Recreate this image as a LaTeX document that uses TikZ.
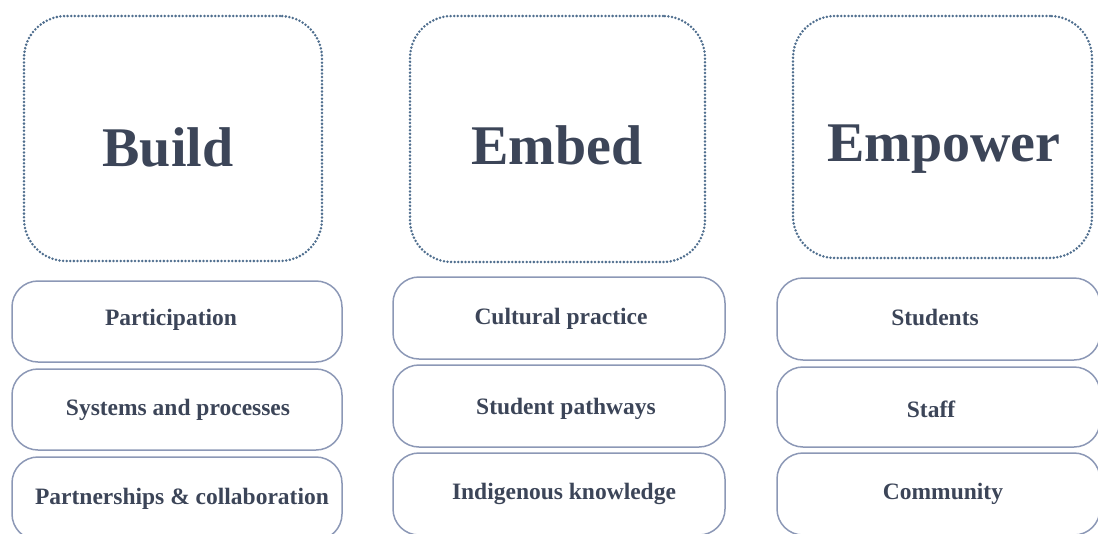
\documentclass[tikz,border=0pt]{standalone}
\usepackage{fontspec}
\setmainfont{Liberation Serif}
\definecolor{txt}{HTML}{3C4558}
\definecolor{dotc}{HTML}{4F6E8E}
\definecolor{boxc}{HTML}{8C98B6}
\begin{document}
\begin{tikzpicture}[x=1pt,y=-1pt,
  bigbox/.style={draw=dotc, line width=2.8pt, dash pattern=on 0pt off 3.6pt, line cap=round, rounded corners=42pt, minimum width=#1, inner sep=0pt},
  bigbox/.default=298pt,
  smallbox/.style={draw=boxc, line width=1.5pt, rounded corners=26pt, inner sep=0pt},
  title/.style={font=\fontsize{56}{60}\selectfont\bfseries, text=txt},
  item/.style={font=\fontsize{23.5}{28}\selectfont\bfseries, text=txt}]
\useasboundingbox (0,0) rectangle (1098,533);
\clip (0,0) rectangle (1098,533);
% big boxes
\node[bigbox=298pt, minimum height=245pt] (bB) at (173,138.5) {};
\node[bigbox=295pt, minimum height=246pt] (bE) at (557.5,139) {};
\node[bigbox=299pt, minimum height=242pt] (bP) at (942.5,137) {};
\node[title] (tB) at (168,147) {Build};
\node[title] (tE) at (557,145) {Embed};
\node[title] (tP) at (944,149) {Empower};
% Build column
\node[smallbox, minimum width=330pt, minimum height=81pt] (b1) at (177,321.5) {};
\node[smallbox, minimum width=330pt, minimum height=81pt] (b2) at (177,409.5) {};
\node[smallbox, minimum width=330pt, minimum height=83pt] (b3) at (177,498.5) {};
\node[item] (tb1) at (171,320) {Participation};
\node[item] (tb2) at (178,410) {Systems and processes};
\node[item] (tb3) at (182,499) {Partnerships \& collaboration};
% Embed column
\node[smallbox, minimum width=332pt, minimum height=82pt] (e1) at (559,318) {};
\node[smallbox, minimum width=332pt, minimum height=82pt] (e2) at (559,406) {};
\node[smallbox, minimum width=332pt, minimum height=82pt] (e3) at (559,494) {};
\node[item] (te1) at (561,319) {Cultural practice};
\node[item] (te2) at (566,409) {Student pathways};
\node[item] (te3) at (564,494) {Indigenous knowledge};
% Empower column
\node[smallbox, minimum width=323pt, minimum height=82pt] (p1) at (938.5,319) {};
\node[smallbox, minimum width=323pt, minimum height=80pt] (p2) at (938.5,407) {};
\node[smallbox, minimum width=323pt, minimum height=82pt] (p3) at (938.5,494) {};
\node[item] (tp1) at (935,317) {Students};
\node[item] (tp2) at (931,409) {Staff};
\node[item] (tp3) at (943,494) {Community};
\end{tikzpicture}
\end{document}
